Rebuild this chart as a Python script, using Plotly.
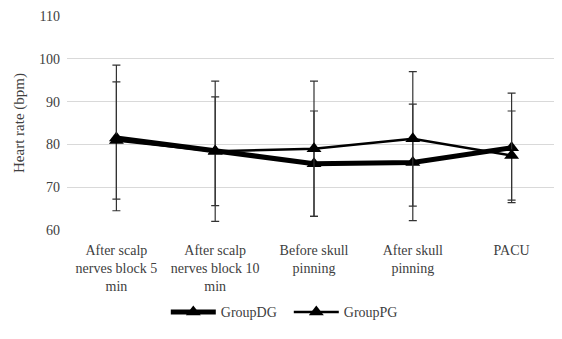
import plotly.graph_objects as go

categories = ["After scalp<br>nerves block 5<br>min", "After scalp<br>nerves block 10<br>min",
              "Before skull<br>pinning", "After skull<br>pinning", "PACU"]
dg_mean = [81.5, 78.4, 75.5, 75.8, 79.2]
dg_sd = [17.0, 16.4, 12.3, 13.6, 12.8]
pg_mean = [80.9, 78.4, 79.0, 81.3, 77.4]
pg_sd = [13.7, 12.7, 15.8, 15.7, 10.4]
y_ticks = [60, 70, 80, 90, 100, 110]

font_family = "Liberation Serif, Times New Roman, serif"
text_color = "#404040"

fig = go.Figure()
fig.add_trace(go.Scatter(
    x=categories, y=dg_mean, name="GroupDG", mode="lines+markers",
    line=dict(color="black", width=5),
    marker=dict(symbol="triangle-up", size=13, color="black"),
    error_y=dict(type="data", array=dg_sd, visible=True, color="#333333", thickness=1.2, width=4),
    cliponaxis=False,
))
fig.add_trace(go.Scatter(
    x=categories, y=pg_mean, name="GroupPG", mode="lines+markers",
    line=dict(color="black", width=2.5),
    marker=dict(symbol="triangle-up", size=13, color="black"),
    error_y=dict(type="data", array=pg_sd, visible=True, color="#333333", thickness=1.2, width=4),
    cliponaxis=False,
))

fig.update_layout(
    width=562, height=339,
    margin=dict(l=59, r=9, t=8, b=117),
    paper_bgcolor="white", plot_bgcolor="white",
    font=dict(family=font_family, size=14, color=text_color),
    showlegend=True,
    legend=dict(orientation="h", x=0.2, xanchor="left", y=-0.385, yanchor="middle",
                itemwidth=45, entrywidth=63, entrywidthmode="pixels",
                font=dict(family=font_family, size=14, color=text_color)),
    hovermode=False,
)
fig.update_xaxes(range=[-0.5, 4.5], showgrid=False, showline=False, zeroline=False, ticks="",
                 automargin=False, ticklabelstandoff=10,
                 tickfont=dict(family=font_family, size=14, color=text_color))
fig.update_yaxes(range=[60, 110], tickvals=y_ticks, showgrid=True, gridcolor="#d9d9d9", gridwidth=1,
                 zeroline=False, showline=False, ticks="", automargin=False, ticklabelstandoff=6,
                 title=dict(text="Heart rate (bpm)", font=dict(family=font_family, size=15, color=text_color), standoff=10),
                 tickfont=dict(family=font_family, size=14, color=text_color))

fig.write_html("out.html")
